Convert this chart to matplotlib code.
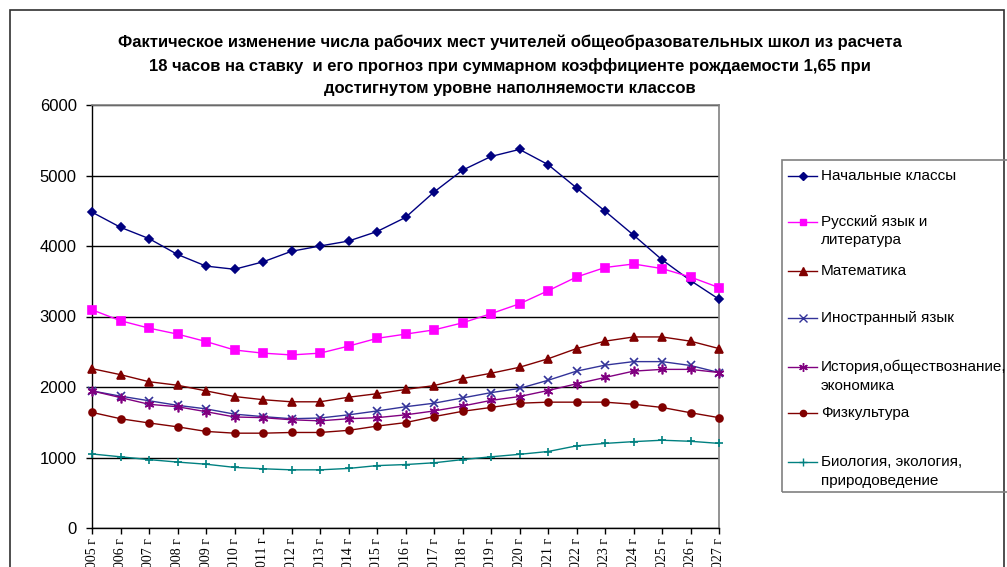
import matplotlib
matplotlib.use("Agg")
import matplotlib.pyplot as plt
from matplotlib.lines import Line2D
from matplotlib.patches import Rectangle

plt.rcParams['font.family'] = ['Liberation Sans', 'DejaVu Sans']

# годы и прогноз числа рабочих мест по предметам
years = [2005, 2006, 2007, 2008, 2009, 2010, 2011, 2012, 2013, 2014, 2015, 2016,
         2017, 2018, 2019, 2020, 2021, 2022, 2023, 2024, 2025, 2026, 2027]
year_labels = [f"{y} г" for y in years]

nachalnye = [4480, 4265, 4105, 3880, 3715, 3670, 3775, 3925, 4000, 4070, 4205, 4405,
             4765, 5075, 5270, 5370, 5155, 4825, 4495, 4155, 3805, 3510, 3245]
russkiy = [3095, 2940, 2835, 2750, 2645, 2525, 2480, 2455, 2480, 2580, 2690, 2750,
           2810, 2910, 3040, 3180, 3365, 3560, 3695, 3745, 3680, 3560, 3410]
matematika = [2260, 2175, 2075, 2025, 1945, 1865, 1820, 1790, 1790, 1855, 1905, 1965,
              2020, 2120, 2195, 2280, 2400, 2545, 2650, 2710, 2710, 2650, 2545]
inostranny = [1945, 1870, 1805, 1740, 1690, 1615, 1580, 1550, 1560, 1605, 1660, 1720,
              1770, 1845, 1920, 1980, 2095, 2225, 2310, 2360, 2360, 2305, 2205]
istoriya = [1945, 1850, 1755, 1720, 1650, 1575, 1565, 1535, 1520, 1550, 1565, 1605,
            1660, 1730, 1810, 1865, 1950, 2045, 2135, 2225, 2250, 2250, 2205]
fizkultura = [1640, 1550, 1490, 1435, 1370, 1345, 1345, 1355, 1355, 1385, 1445, 1495,
              1580, 1655, 1710, 1770, 1785, 1785, 1785, 1755, 1710, 1635, 1565]
biologiya = [1050, 1010, 970, 935, 905, 860, 840, 825, 825, 845, 885, 900,
             925, 970, 1010, 1045, 1085, 1165, 1200, 1225, 1245, 1230, 1200]

series = [
    ("Начальные классы", nachalnye, "#000080", "D", 4.5),
    ("Русский язык и\nлитература", russkiy, "#FF00FF", "s", 5.5),
    ("Математика", matematika, "#800000", "^", 6),
    ("Иностранный язык", inostranny, "#333399", "x", 6),
    ("История,обществознание,\nэкономика", istoriya, "#800080", (6, 2, 0), 7),
    ("Физкультура", fizkultura, "#800000", "o", 5),
    ("Биология, экология,\nприродоведение", biologiya, "#008080", "+", 6),
]

W, H = 1007, 567
fig = plt.figure(figsize=(W / 100, H / 100), dpi=100)


def fx(x):
    return x / W


def fy(y):
    return 1 - y / H


# рамка области диаграммы
fig.add_artist(Rectangle((fx(10), fy(600)), fx(994), (600 - 10) / H,
                         transform=fig.transFigure, fill=False,
                         edgecolor="#303030", linewidth=1.2))

ax = fig.add_axes([fx(92), fy(528), fx(719 - 92), (528 - 105) / H])
x = list(range(len(years)))
for name, vals, color, marker, ms in series:
    ax.plot(x, vals, color=color, linewidth=1, marker=marker, markersize=ms,
            markerfacecolor=color, markeredgecolor=color, markeredgewidth=1.2,
            clip_on=False, zorder=3)

ax.set_xlim(0, len(years) - 1)
ax.set_ylim(0, 6000)
ax.set_yticks(range(0, 7000, 1000))
ax.set_xticks(x)
ax.set_xticklabels(year_labels, rotation=90, fontfamily="Liberation Serif",
                   fontsize=10, va="top")
ax.tick_params(axis="y", labelsize=12, length=4, width=1, direction="out", pad=7)
ax.tick_params(axis="x", length=4, width=1, direction="out", pad=3)
ax.yaxis.grid(True, color="#000000", linewidth=1)
ax.set_axisbelow(True)
for side in ("top", "right"):
    ax.spines[side].set_color("#808080")
    ax.spines[side].set_linewidth(1.2)
for side in ("left", "bottom"):
    ax.spines[side].set_color("#000000")
    ax.spines[side].set_linewidth(1)

fig.text(fx(510), fy(35),
         "Фактическое изменение числа рабочих мест учителей общеобразовательных школ из расчета\n"
         "18 часов на ставку  и его прогноз при суммарном коэффициенте рождаемости 1,65 при\n"
         "достигнутом уровне наполняемости классов",
         ha="center", va="top", fontsize=12, fontweight="bold", linespacing=1.6)

# легенда справа
fig.add_artist(Rectangle((fx(782), fy(492)), fx(240), (492 - 160) / H,
                         transform=fig.transFigure, fill=False,
                         edgecolor="#808080", linewidth=1.2))
legend_y = [176, 222, 271, 318, 367, 413, 462]
for (name, vals, color, marker, ms), ly in zip(series, legend_y):
    fig.add_artist(Line2D([fx(788), fx(817)], [fy(ly), fy(ly)], color=color,
                          linewidth=1, transform=fig.transFigure))
    fig.add_artist(Line2D([fx(802.5)], [fy(ly)], color=color, marker=marker,
                          markersize=ms * 0.9, markeredgewidth=1,
                          transform=fig.transFigure))
    for i, line in enumerate(name.split("\n")):
        fig.text(fx(821), fy(ly + i * 18.5), line, ha="left", va="center",
                 fontsize=11)

fig.savefig("out.png", dpi=100)
